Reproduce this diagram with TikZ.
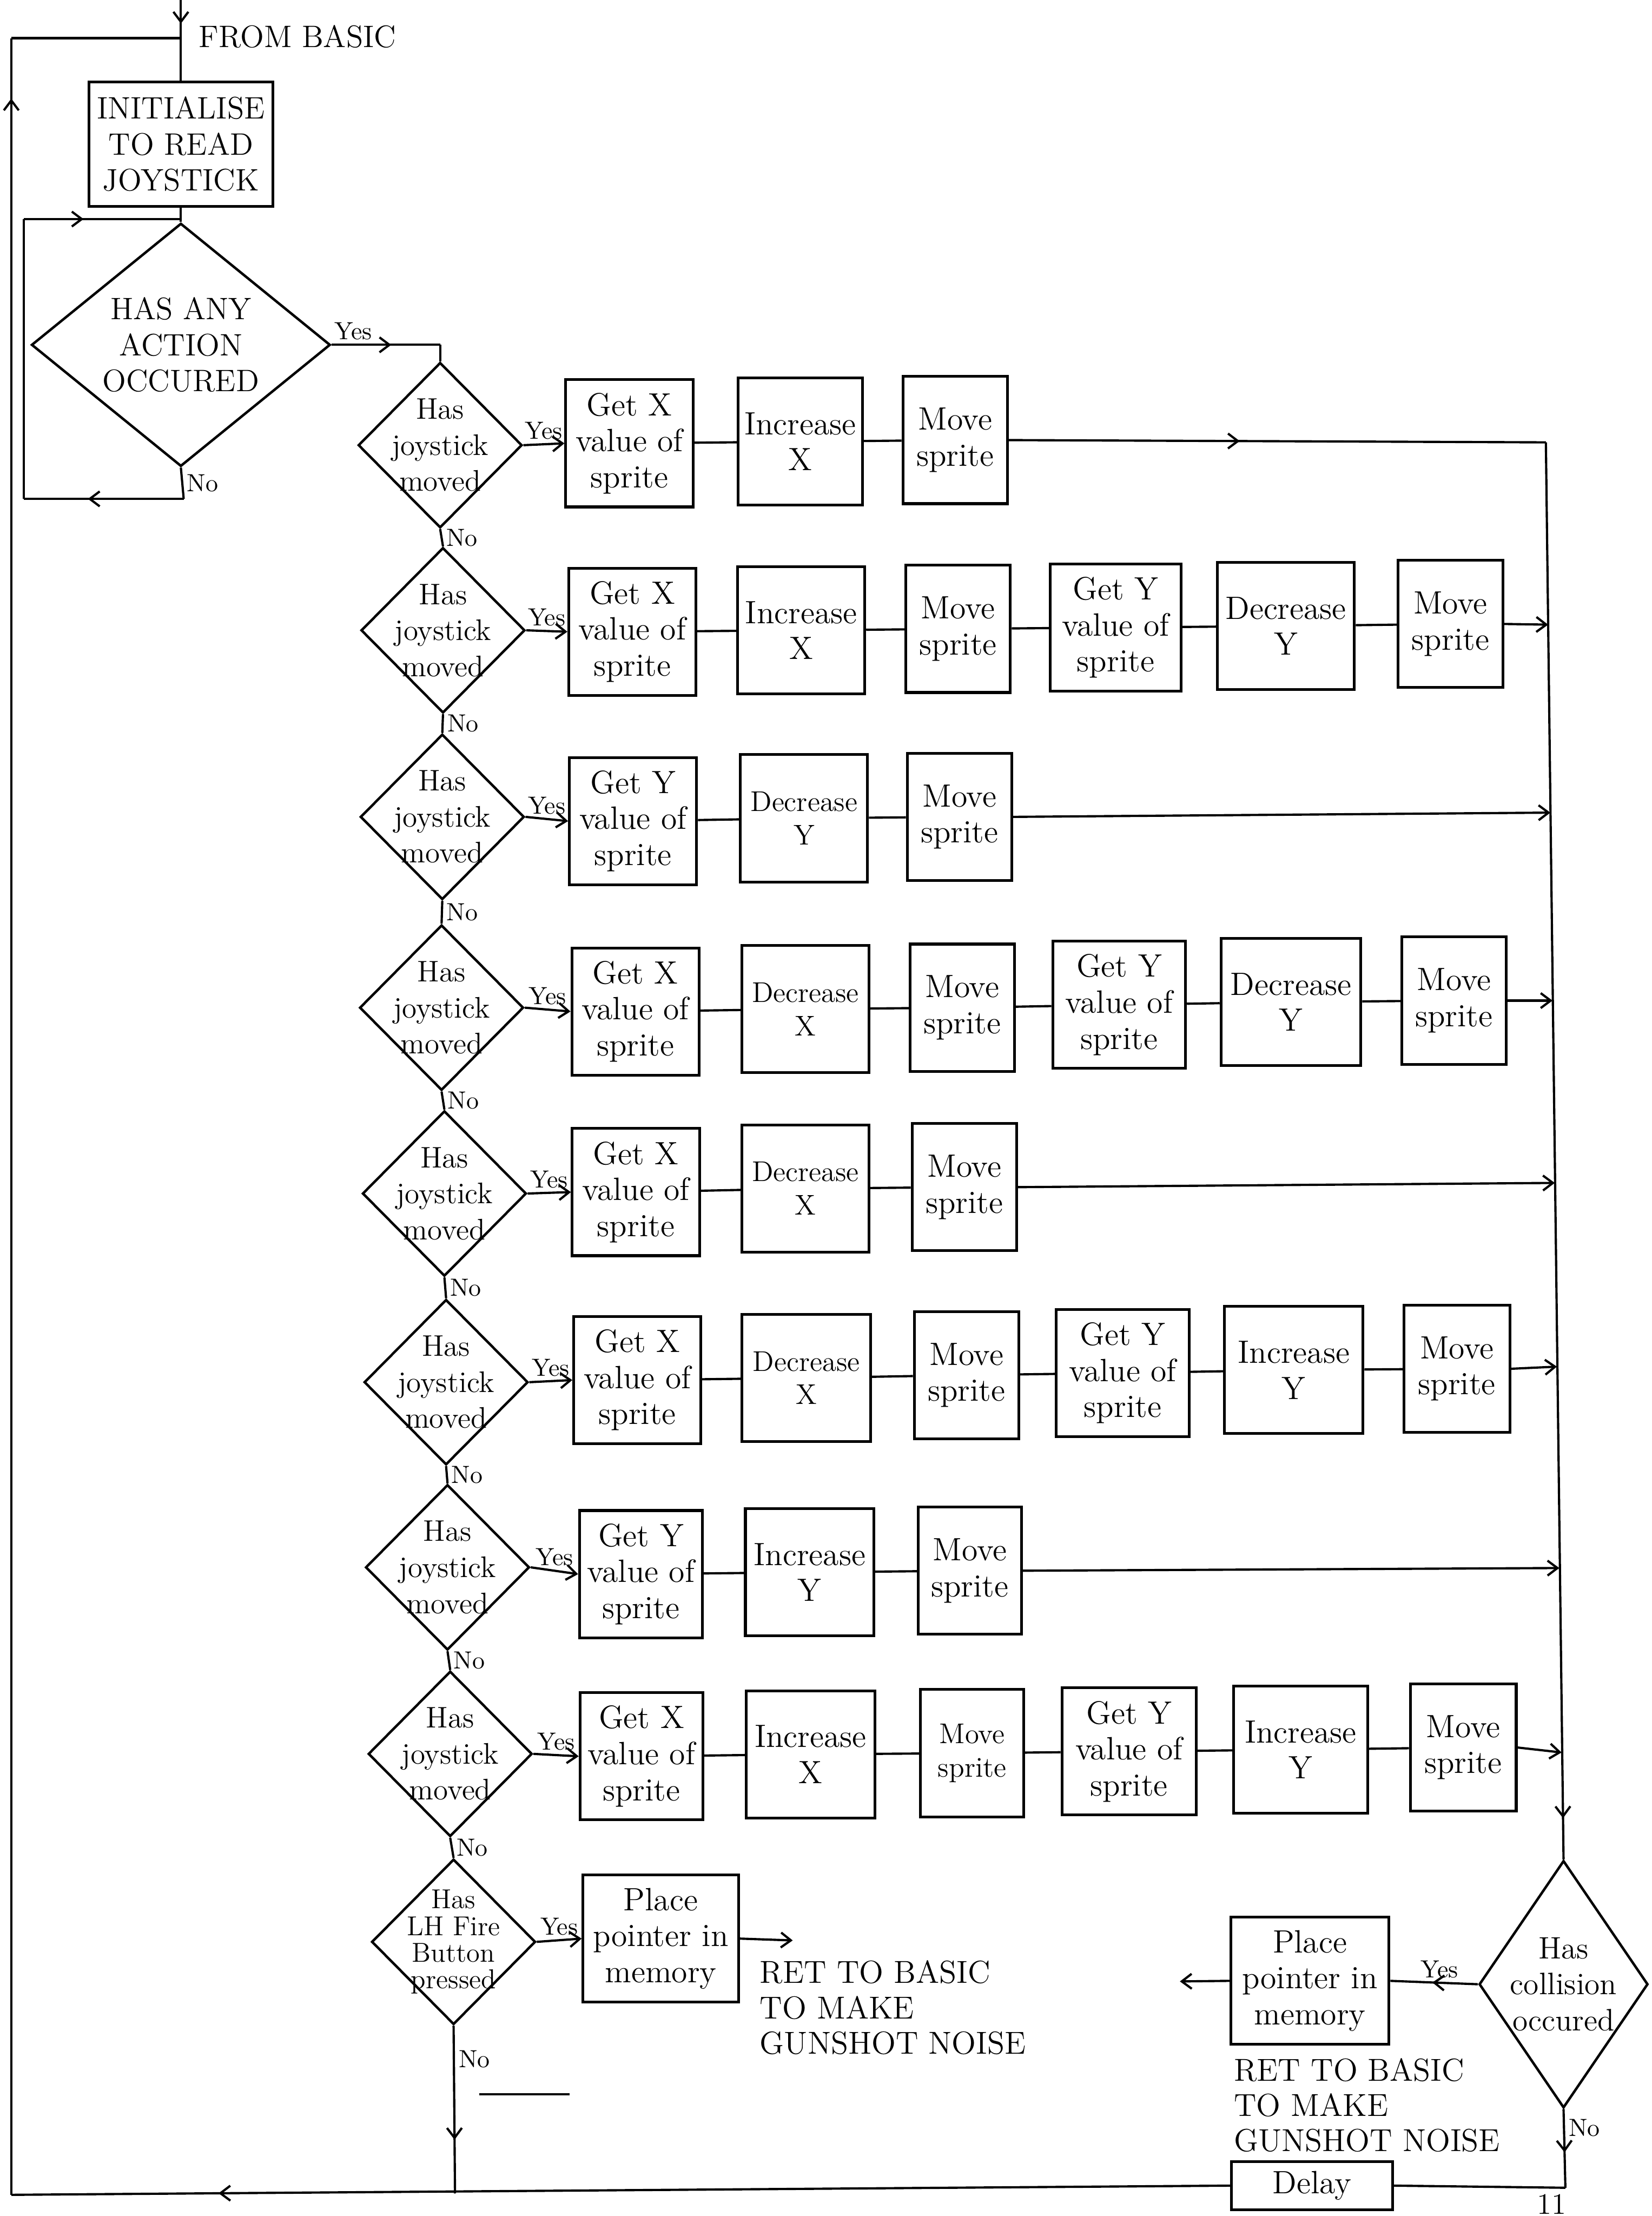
\documentclass[tikz,border=0pt]{standalone}
\usetikzlibrary{shapes.geometric,arrows.meta,decorations.markings}
\tikzset{
  opbox/.style={draw, line width=1.1pt, align=center, inner sep=0pt, minimum width=18mm, minimum height=18mm, font=\fontsize{13}{14.5}\selectfont},
  movebox/.style={opbox, minimum width=14.8mm},
  widebox/.style={opbox, minimum width=19mm},
  smalltext/.style={font=\fontsize{11.5}{13.5}\selectfont},
  decision/.style={draw, diamond, line width=1pt, align=center, inner sep=-20pt, minimum width=23.2mm, minimum height=23.4mm, font=\fontsize{12}{14.5}\selectfont},
  lbl/.style={inner sep=1.5pt, font=\fontsize{10}{12}\selectfont},
  note/.style={align=left, inner sep=0pt, font=\fontsize{12.8}{14.2}\selectfont},
  midarrow/.style={postaction={decorate}, decoration={markings, mark=at position #1 with {\arrow{>}}}},
  midarrow/.default=0.5
}
\begin{document}
\begin{tikzpicture}[x=0.2mm, y=-0.2mm, line width=0.9pt, >={Straight Barb[length=4pt,width=6pt]}]
\useasboundingbox (0,0) rectangle (1169,1568);
\node[opbox, minimum width=26mm, minimum height=17.6mm, font=\fontsize{12.5}{14.5}\selectfont] at (128,102) (init) {INITIALISE\\TO READ\\JOYSTICK};
\node[decision, minimum width=42.3mm, minimum height=34.4mm, font=\fontsize{12.5}{14.5}\selectfont] at (128,244) (action) {HAS ANY\\ACTION\\OCCURED};
\node[anchor=west, inner sep=0pt, font=\fontsize{12.5}{14.5}\selectfont] at (140,26) (basic) {FROM BASIC};

\node[decision] at (311.5,315) (moved1) {Has\\joystick\\moved};
\node[opbox] at (445.4,313.7) (getx1) {Get X\\value of\\sprite};
\node[opbox, minimum width=17.6mm] at (566.3,312.5) (incx1) {Increase\\X};
\node[movebox] at (676,311.4) (sprite1) {Move\\sprite};

\node[decision] at (313.5,446) (moved2) {Has\\joystick\\moved};
\node[opbox] at (447.5,447) (getx2) {Get X\\value of\\sprite};
\node[opbox] at (567,446) (incx2) {Increase\\X};
\node[movebox] at (678,445) (sprite2a) {Move\\sprite};
\node[widebox, minimum width=18.5mm] at (789.5,444) (gety2) {Get Y\\value of\\sprite};
\node[widebox, minimum width=19.4mm] at (910,443) (decy2) {Decrease\\Y};
\node[movebox] at (1026.5,441.5) (sprite2b) {Move\\sprite};

\node[decision] at (313,578) (moved3) {Has\\joystick\\moved};
\node[opbox] at (448,581) (gety3) {Get Y\\value of\\sprite};
\node[opbox, smalltext] at (569,579) (decy3) {Decrease\\Y};
\node[movebox] at (679,578) (sprite3) {Move\\sprite};

\node[decision] at (312.5,713) (moved4) {Has\\joystick\\moved};
\node[opbox] at (449.7,715.7) (getx4) {Get X\\value of\\sprite};
\node[opbox, smalltext] at (570,714) (decx4) {Decrease\\X};
\node[movebox] at (681,713) (sprite4a) {Move\\sprite};
\node[widebox, minimum width=18.8mm] at (792,711) (gety4) {Get Y\\value of\\sprite};
\node[widebox, minimum width=19.8mm] at (913.6,709) (decy4) {Decrease\\Y};
\node[movebox] at (1029,708) (sprite4b) {Move\\sprite};

\node[decision] at (314.5,844.5) (moved5) {Has\\joystick\\moved};
\node[opbox] at (450,843.5) (getx5) {Get X\\value of\\sprite};
\node[opbox, smalltext] at (570,841) (decx5) {Decrease\\X};
\node[movebox] at (682.5,840) (sprite5) {Move\\sprite};

\node[decision] at (315.7,978) (moved6) {Has\\joystick\\moved};
\node[opbox] at (451,976.5) (getx6) {Get X\\value of\\sprite};
\node[opbox, smalltext, minimum width=18.2mm] at (570.6,975) (decx6) {Decrease\\X};
\node[movebox] at (684,973) (sprite6a) {Move\\sprite};
\node[widebox, minimum width=18.8mm] at (794.5,971.5) (gety6) {Get Y\\value of\\sprite};
\node[widebox, minimum width=19.6mm] at (915.6,969.4) (incy6) {Increase\\Y};
\node[movebox, minimum width=15mm] at (1031,968.5) (sprite6b) {Move\\sprite};

\node[decision] at (316.7,1109) (moved7) {Has\\joystick\\moved};
\node[opbox, minimum width=17.4mm] at (453.6,1113.8) (gety7) {Get Y\\value of\\sprite};
\node[opbox, minimum width=18.2mm] at (573,1112.5) (incy7) {Increase\\Y};
\node[movebox, minimum width=14.6mm] at (686.4,1111.4) (sprite7) {Move\\sprite};

\node[decision] at (318.6,1241) (moved8) {Has\\joystick\\moved};
\node[opbox, minimum width=17.4mm] at (454,1242.7) (getx8) {Get X\\value of\\sprite};
\node[opbox, minimum width=18.2mm] at (573.6,1241.3) (incx8) {Increase\\X};
\node[movebox, smalltext, minimum width=14.6mm] at (688,1240.5) (sprite8a) {Move\\sprite};
\node[widebox] at (799,1239.3) (gety8) {Get Y\\value of\\sprite};
\node[widebox] at (920.5,1238) (incy8) {Increase\\Y};
\node[movebox, minimum width=15mm] at (1035.5,1236.5) (sprite8b) {Move\\sprite};

\node[decision, font=\fontsize{11}{10.7}\selectfont] at (321,1374) (fire) {Has\\LH Fire\\Button\\pressed};
\node[opbox, minimum width=22mm] at (467.6,1371.7) (firemem) {Place\\pointer in\\memory};
\node[note, anchor=north west] at (537,1386.5) (fireret) {RET TO BASIC\\TO MAKE\\GUNSHOT NOISE};

\node[decision, minimum width=23.9mm, minimum height=35mm, font=\fontsize{12.5}{14.5}\selectfont] at (1106.5,1404) (collide) {Has\\collision\\occured};
\node[opbox, minimum width=22.4mm] at (927,1401.6) (hitmem) {Place\\pointer in\\memory};
\node[note, anchor=north west] at (872.5,1455.6) (hitret) {RET TO BASIC\\TO MAKE\\GUNSHOT NOISE};
\node[opbox, minimum width=22.8mm, minimum height=6.8mm] at (928.4,1546.5) (delay) {Delay};
\node[anchor=north, inner sep=0pt, font=\fontsize{12}{13}\selectfont] at (1098,1552) (page) {11};

\coordinate (top) at (128,0);
\coordinate (entry) at (128,27);
\coordinate (outerTL) at (8,27);
\coordinate (outerBL) at (8,1553);
\coordinate (loopin) at (128,155);
\coordinate (loopTL) at (17,155);
\coordinate (loopBL) at (17,353);
\coordinate (loopBR) at (130,353);
\coordinate (yesturn) at (311.5,244);
\coordinate (rtop) at (1094,313);
\coordinate (rj2) at (1095.6,442);
\coordinate (rj3) at (1097.2,575);
\coordinate (rj4) at (1098.7,708);
\coordinate (rj5) at (1100.3,837);
\coordinate (rj6) at (1101.8,967);
\coordinate (rj7) at (1103.5,1109.5);
\coordinate (rj8) at (1105.1,1240);
\coordinate (fireout) at (561,1373);
\coordinate (firejoin) at (322,1552);
\coordinate (hitout) at (835,1402);
\coordinate (delayturn) at (1107.8,1548);
\coordinate (dashL) at (339,1482);
\coordinate (dashR) at (403,1482);

\draw[midarrow=0.62] (top) -- (entry);
\draw (entry) -- (init.north);
\draw (init.south) -- (action.north);
\draw[midarrow=0.38] (loopTL) -- (loopin);
\draw (action.south) -- node[lbl, right] {No} (loopBR);
\draw[midarrow=0.6] (loopBR) -- (loopBL);
\draw (loopBL) -- (loopTL);
\draw[midarrow=0.55] (action.east) -- node[lbl, above, pos=0.2] {Yes} (yesturn);
\draw (yesturn) -- (moved1.north);

\draw[->] (moved1.east) -- node[lbl, above] {Yes} (getx1.west);
\draw (getx1) -- (incx1);
\draw (incx1) -- (sprite1);
\draw[midarrow=0.43] (sprite1.east) -- (rtop);
\draw[midarrow=0.971] (rtop) -- (collide.north);
\draw (moved1.south) -- node[lbl, right] {No} (moved2.north);

\draw[->] (moved2.east) -- node[lbl, above] {Yes} (getx2.west);
\draw (getx2) -- (incx2);
\draw (incx2) -- (sprite2a);
\draw (sprite2a) -- (gety2);
\draw (gety2) -- (decy2);
\draw (decy2) -- (sprite2b);
\draw[->] (sprite2b.east) -- (rj2);
\draw (moved2.south) -- node[lbl, right] {No} (moved3.north);

\draw[->] (moved3.east) -- node[lbl, above] {Yes} (gety3.west);
\draw (gety3) -- (decy3);
\draw (decy3) -- (sprite3);
\draw[->] (sprite3.east) -- (rj3);
\draw (moved3.south) -- node[lbl, right] {No} (moved4.north);

\draw[->] (moved4.east) -- node[lbl, above] {Yes} (getx4.west);
\draw (getx4) -- (decx4);
\draw (decx4) -- (sprite4a);
\draw (sprite4a) -- (gety4);
\draw (gety4) -- (decy4);
\draw (decy4) -- (sprite4b);
\draw[->] (sprite4b.east) -- (rj4);
\draw (moved4.south) -- node[lbl, right] {No} (moved5.north);

\draw[->] (moved5.east) -- node[lbl, above] {Yes} (getx5.west);
\draw (getx5) -- (decx5);
\draw (decx5) -- (sprite5);
\draw[->] (sprite5.east) -- (rj5);
\draw (moved5.south) -- node[lbl, right] {No} (moved6.north);

\draw[->] (moved6.east) -- node[lbl, above] {Yes} (getx6.west);
\draw (getx6) -- (decx6);
\draw (decx6) -- (sprite6a);
\draw (sprite6a) -- (gety6);
\draw (gety6) -- (incy6);
\draw (incy6) -- (sprite6b);
\draw[->] (sprite6b.east) -- (rj6);
\draw (moved6.south) -- node[lbl, right] {No} (moved7.north);

\draw[->] (moved7.east) -- node[lbl, above] {Yes} (gety7.west);
\draw (gety7) -- (incy7);
\draw (incy7) -- (sprite7);
\draw[->] (sprite7.east) -- (rj7);
\draw (moved7.south) -- node[lbl, right] {No} (moved8.north);

\draw[->] (moved8.east) -- node[lbl, above] {Yes} (getx8.west);
\draw (getx8) -- (incx8);
\draw (incx8) -- (sprite8a);
\draw (sprite8a) -- (gety8);
\draw (gety8) -- (incy8);
\draw (incy8) -- (sprite8b);
\draw[->] (sprite8b.east) -- (rj8);
\draw (moved8.south) -- node[lbl, right] {No} (fire.north);

\draw[->] (fire.east) -- node[lbl, above] {Yes} (firemem.west);
\draw[->] (firemem.east) -- (fireout);
\draw[midarrow=0.68] (fire.south) -- node[lbl, right, pos=0.2] {No} (firejoin);
\draw (dashL) -- (dashR);

\draw[midarrow=0.52] (collide.west) -- node[lbl, above, pos=0.44] {Yes} (hitmem.east);
\draw[->] (hitmem.west) -- (hitout);
\draw[midarrow=0.55] (collide.south) -- node[lbl, right, pos=0.24] {No} (delayturn);
\draw (delayturn) -- (delay.east);
\draw[midarrow=0.83] (delay.west) -- (outerBL);
\draw[midarrow=0.972] (outerBL) -- (outerTL);
\draw (outerTL) -- (entry);
\end{tikzpicture}
\end{document}
